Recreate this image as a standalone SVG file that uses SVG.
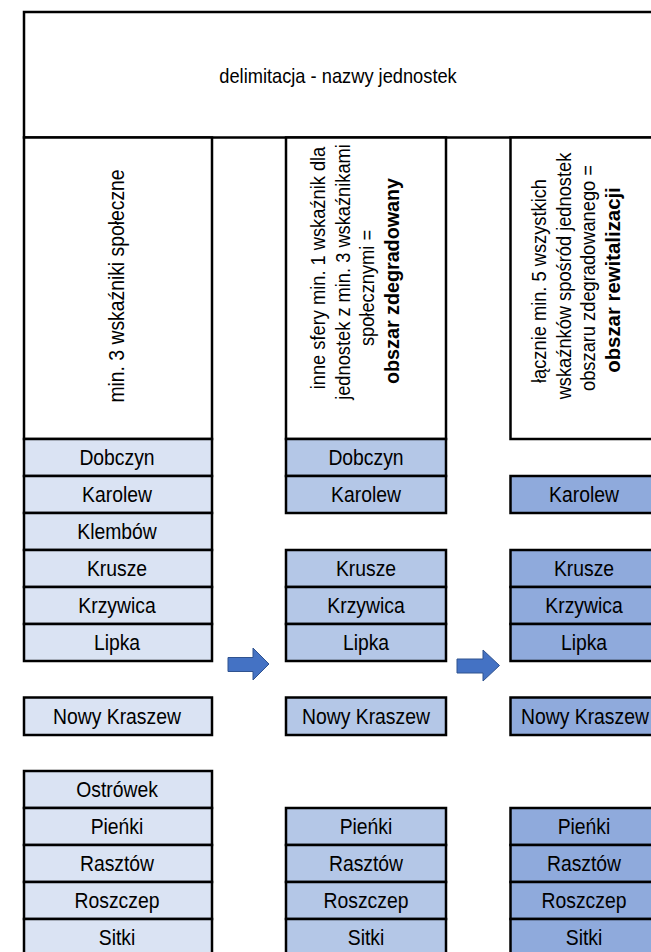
<svg xmlns="http://www.w3.org/2000/svg" width="651" height="952" viewBox="0 0 651 952">
<style>
.b{stroke:#000;stroke-width:2.5;}
.w{fill:#fff;}
.c1{fill:#DAE3F3;}
.c2{fill:#B4C7E7;}
.c3{fill:#8FAADC;}
text{font-family:"Liberation Sans",Arial,sans-serif;font-size:21px;fill:#000;text-anchor:middle;}
.cell{font-size:21.5px;}
.bold{font-weight:bold;font-size:21px;}
.arrow{fill:#4472C4;stroke:#2F528F;stroke-width:1;}
</style>
<rect width="651" height="952" fill="#fff"/>
<g id="title">
<rect class="b w" x="24" y="12" width="633" height="125.5"/>
<text transform="translate(338,82.5) scale(0.87,1)">delimitacja - nazwy jednostek</text>
</g>
<g id="header1">
<rect class="b w" x="24" y="137.5" width="188" height="301.5"/>
<text class="cell" transform="translate(123.5,286) rotate(-90) scale(0.9,1)">min. 3 wskaźniki społeczne</text>
</g>
<g id="header2">
<rect class="b w" x="286" y="137.5" width="160" height="301.5"/>
<text transform="translate(325,268) rotate(-90) scale(0.87,1)">inne sfery min. 1 wskaźnik dla</text>
<text transform="translate(349.5,272) rotate(-90) scale(0.87,1)">jednostek z min. 3 wskaźnikami</text>
<text transform="translate(374,288) rotate(-90) scale(0.87,1)">społecznymi =</text>
<text class="bold" transform="translate(399,281) rotate(-90) scale(0.94,1)">obszar zdegradowany</text>
</g>
<g id="header3">
<rect class="b w" x="510.5" y="137.5" width="147" height="301.5"/>
<text transform="translate(546,281) rotate(-90) scale(0.87,1)">łącznie min. 5 wszystkich</text>
<text transform="translate(570.5,276) rotate(-90) scale(0.87,1)">wskaźnków spośród jednostek</text>
<text transform="translate(595,278) rotate(-90) scale(0.87,1)">obszaru zdegradowanego =</text>
<text class="bold" transform="translate(619.5,280) rotate(-90) scale(0.97,1)">obszar rewitalizacji</text>
</g>
<g id="col1">
<g id="c1-dobczyn"><rect class="b c1" x="24" y="439" width="188" height="37"/><text class="cell" transform="translate(117,465.3) scale(0.9,1)">Dobczyn</text></g>
<g id="c1-karolew"><rect class="b c1" x="24" y="476" width="188" height="37"/><text class="cell" transform="translate(117,502.3) scale(0.9,1)">Karolew</text></g>
<g id="c1-klembow"><rect class="b c1" x="24" y="513" width="188" height="37"/><text class="cell" transform="translate(117,539.3) scale(0.9,1)">Klembów</text></g>
<g id="c1-krusze"><rect class="b c1" x="24" y="550" width="188" height="37"/><text class="cell" transform="translate(117,576.3) scale(0.9,1)">Krusze</text></g>
<g id="c1-krzywica"><rect class="b c1" x="24" y="587" width="188" height="37"/><text class="cell" transform="translate(117,613.3) scale(0.9,1)">Krzywica</text></g>
<g id="c1-lipka"><rect class="b c1" x="24" y="624" width="188" height="37"/><text class="cell" transform="translate(117,650.3) scale(0.9,1)">Lipka</text></g>
<g id="c1-nowy"><rect class="b c1" x="24" y="697.5" width="188" height="37.5"/><text class="cell" transform="translate(117,724) scale(0.9,1)">Nowy Kraszew</text></g>
<g id="c1-ostrowek"><rect class="b c1" x="24" y="771" width="188" height="37"/><text class="cell" transform="translate(117,797.3) scale(0.9,1)">Ostrówek</text></g>
<g id="c1-pienki"><rect class="b c1" x="24" y="808" width="188" height="37"/><text class="cell" transform="translate(117,834.3) scale(0.9,1)">Pieńki</text></g>
<g id="c1-rasztow"><rect class="b c1" x="24" y="845" width="188" height="37"/><text class="cell" transform="translate(117,871.3) scale(0.9,1)">Rasztów</text></g>
<g id="c1-roszczep"><rect class="b c1" x="24" y="882" width="188" height="37"/><text class="cell" transform="translate(117,908.3) scale(0.9,1)">Roszczep</text></g>
<g id="c1-sitki"><rect class="b c1" x="24" y="919" width="188" height="40"/><text class="cell" transform="translate(117,945.3) scale(0.9,1)">Sitki</text></g>
</g>
<g id="col2">
<g id="c2-dobczyn"><rect class="b c2" x="286" y="439" width="160" height="37"/><text class="cell" transform="translate(366,465.3) scale(0.9,1)">Dobczyn</text></g>
<g id="c2-karolew"><rect class="b c2" x="286" y="476" width="160" height="37"/><text class="cell" transform="translate(366,502.3) scale(0.9,1)">Karolew</text></g>
<g id="c2-krusze"><rect class="b c2" x="286" y="550" width="160" height="37"/><text class="cell" transform="translate(366,576.3) scale(0.9,1)">Krusze</text></g>
<g id="c2-krzywica"><rect class="b c2" x="286" y="587" width="160" height="37"/><text class="cell" transform="translate(366,613.3) scale(0.9,1)">Krzywica</text></g>
<g id="c2-lipka"><rect class="b c2" x="286" y="624" width="160" height="37"/><text class="cell" transform="translate(366,650.3) scale(0.9,1)">Lipka</text></g>
<g id="c2-nowy"><rect class="b c2" x="286" y="697.5" width="160" height="37.5"/><text class="cell" transform="translate(366,724) scale(0.9,1)">Nowy Kraszew</text></g>
<g id="c2-pienki"><rect class="b c2" x="286" y="808" width="160" height="37"/><text class="cell" transform="translate(366,834.3) scale(0.9,1)">Pieńki</text></g>
<g id="c2-rasztow"><rect class="b c2" x="286" y="845" width="160" height="37"/><text class="cell" transform="translate(366,871.3) scale(0.9,1)">Rasztów</text></g>
<g id="c2-roszczep"><rect class="b c2" x="286" y="882" width="160" height="37"/><text class="cell" transform="translate(366,908.3) scale(0.9,1)">Roszczep</text></g>
<g id="c2-sitki"><rect class="b c2" x="286" y="919" width="160" height="40"/><text class="cell" transform="translate(366,945.3) scale(0.9,1)">Sitki</text></g>
</g>
<g id="col3">
<g id="c3-karolew"><rect class="b c3" x="510.5" y="476" width="147" height="37"/><text class="cell" transform="translate(584,502.3) scale(0.9,1)">Karolew</text></g>
<g id="c3-krusze"><rect class="b c3" x="510.5" y="550" width="147" height="37"/><text class="cell" transform="translate(584,576.3) scale(0.9,1)">Krusze</text></g>
<g id="c3-krzywica"><rect class="b c3" x="510.5" y="587" width="147" height="37"/><text class="cell" transform="translate(584,613.3) scale(0.9,1)">Krzywica</text></g>
<g id="c3-lipka"><rect class="b c3" x="510.5" y="624" width="147" height="37"/><text class="cell" transform="translate(584,650.3) scale(0.9,1)">Lipka</text></g>
<g id="c3-nowy"><rect class="b c3" x="510.5" y="697.5" width="147" height="37.5"/><text class="cell" transform="translate(585,724) scale(0.9,1)">Nowy Kraszew</text></g>
<g id="c3-pienki"><rect class="b c3" x="510.5" y="808" width="147" height="37"/><text class="cell" transform="translate(584,834.3) scale(0.9,1)">Pieńki</text></g>
<g id="c3-rasztow"><rect class="b c3" x="510.5" y="845" width="147" height="37"/><text class="cell" transform="translate(584,871.3) scale(0.9,1)">Rasztów</text></g>
<g id="c3-roszczep"><rect class="b c3" x="510.5" y="882" width="147" height="37"/><text class="cell" transform="translate(584,908.3) scale(0.9,1)">Roszczep</text></g>
<g id="c3-sitki"><rect class="b c3" x="510.5" y="919" width="147" height="40"/><text class="cell" transform="translate(584,945.3) scale(0.9,1)">Sitki</text></g>
</g>
<g id="connectors">
<path class="arrow" d="M228,657.5 H253 V648 L269,664 L253,680 V671.5 H228 Z"/>
<path class="arrow" d="M457,659 H483 V650 L499.5,665.5 L483,681 V673 H457 Z"/>
</g>
</svg>
